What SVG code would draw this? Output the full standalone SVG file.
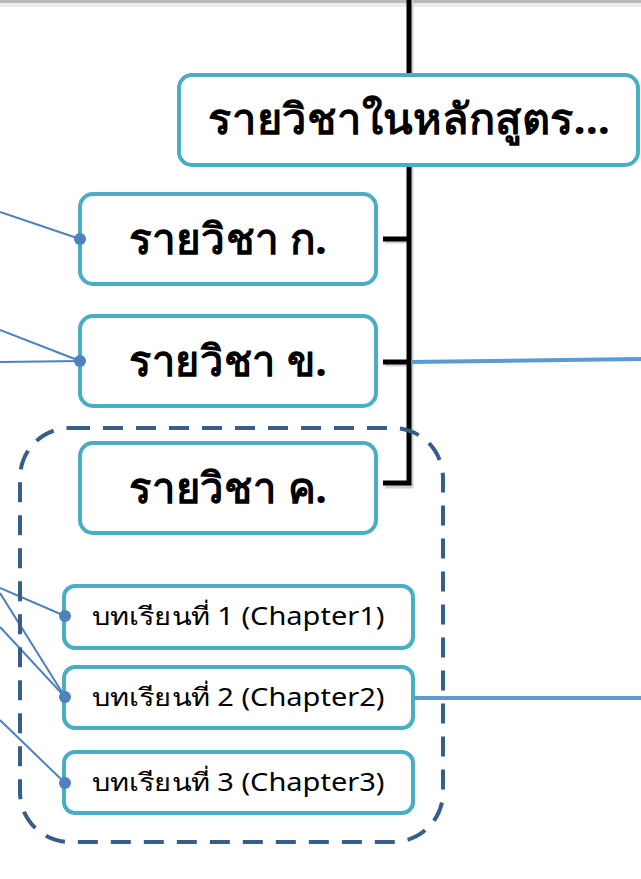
<svg xmlns="http://www.w3.org/2000/svg" width="641" height="879" viewBox="0 0 641 879">
<style>
.box{fill:#fff;stroke:#4bacc6;stroke-width:4}
.t{font-family:"Noto Sans","DejaVu Sans",sans-serif;fill:#000;text-anchor:middle}
.big{font-size:42px;font-weight:bold}
.sm{font-size:25px}
.thin{stroke:#4f81bd;stroke-width:2;fill:none}
.blue{stroke:#5b9bd5;stroke-width:4;fill:none}
.blk{stroke:#000;stroke-width:5;fill:none}
.sh{stroke:#d0d0d0;stroke-width:5;fill:none}
.dot{fill:#4f81bd}
</style>
<rect x="0" y="0" width="641" height="879" fill="#fff"/>
<rect x="0" y="0" width="641" height="3" fill="#b8b8b8"/>
<rect x="0" y="3" width="641" height="4" fill="#ececec"/>
<g id="connectors">
<polyline class="sh" points="411,0 411,75"/>
<polyline class="sh" points="411,167 411,486 385,486"/>
<line class="sh" x1="385" y1="241" x2="411" y2="241"/>
<line class="sh" x1="385" y1="364" x2="411" y2="364"/>
<line class="blk" x1="409" y1="0" x2="409" y2="75"/>
<polyline class="blk" points="409,165 409,483 383,483"/>
<line class="blk" x1="383" y1="239" x2="409" y2="239"/>
<line class="blk" x1="383" y1="362" x2="409" y2="362"/>
<line class="blue" x1="411" y1="362" x2="641" y2="359"/>
<line class="blue" x1="413" y1="698" x2="641" y2="698"/>
<line class="thin" x1="0" y1="212" x2="80" y2="239"/>
<line class="thin" x1="0" y1="330" x2="80" y2="361"/>
<line class="thin" x1="0" y1="362" x2="80" y2="361"/>
<line class="thin" x1="0" y1="588" x2="65" y2="616"/>
<line class="thin" x1="0" y1="593" x2="65" y2="697"/>
<line class="thin" x1="0" y1="627" x2="65" y2="697"/>
<line class="thin" x1="0" y1="720" x2="65" y2="783"/>
</g>
<rect id="group-c" x="20" y="428" width="423" height="414" rx="50" fill="none" stroke="#385d8a" stroke-width="4" stroke-dasharray="20,13"/>
<g id="n-root">
<rect class="box" x="179" y="75" width="459" height="90" rx="13"/>
<text class="t big" x="409" y="134" textLength="402" lengthAdjust="spacingAndGlyphs">รายวิชาในหลักสูตร...</text>
</g>
<g id="n-a">
<rect class="box" x="80" y="194" width="296" height="90" rx="13"/>
<text class="t big" x="228" y="254" textLength="198" lengthAdjust="spacingAndGlyphs">รายวิชา ก.</text>
<circle class="dot" cx="80" cy="239" r="6"/>
</g>
<g id="n-b">
<rect class="box" x="80" y="316" width="296" height="90" rx="13"/>
<text class="t big" x="228" y="376" textLength="198" lengthAdjust="spacingAndGlyphs">รายวิชา ข.</text>
<circle class="dot" cx="80" cy="361" r="6"/>
</g>
<g id="n-c">
<rect class="box" x="80" y="443" width="296" height="90" rx="13"/>
<text class="t big" x="228" y="503" textLength="198" lengthAdjust="spacingAndGlyphs">รายวิชา ค.</text>
</g>
<g id="ch1">
<rect class="box" x="64" y="586" width="349" height="62" rx="11"/>
<text class="t sm" x="238" y="625" textLength="293" lengthAdjust="spacingAndGlyphs">บทเรียนที่ 1 (Chapter1)</text>
<circle class="dot" cx="65" cy="616" r="6"/>
</g>
<g id="ch2">
<rect class="box" x="64" y="667" width="349" height="61" rx="11"/>
<text class="t sm" x="238" y="706" textLength="293" lengthAdjust="spacingAndGlyphs">บทเรียนที่ 2 (Chapter2)</text>
<circle class="dot" cx="65" cy="697" r="6"/>
</g>
<g id="ch3">
<rect class="box" x="64" y="752" width="349" height="61" rx="11"/>
<text class="t sm" x="238" y="791" textLength="293" lengthAdjust="spacingAndGlyphs">บทเรียนที่ 3 (Chapter3)</text>
<circle class="dot" cx="65" cy="783" r="6"/>
</g>
</svg>
